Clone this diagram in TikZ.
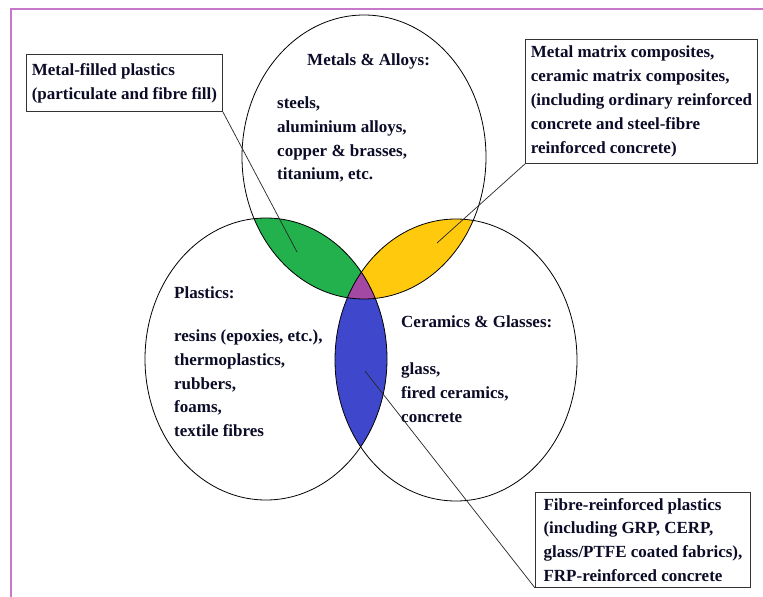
\documentclass[tikz,border=0pt]{standalone}
\usepackage{fontspec}
\setmainfont{Liberation Serif}
\definecolor{framecol}{RGB}{200,120,200}
\definecolor{lgreen}{RGB}{34,177,76}
\definecolor{lyellow}{RGB}{255,201,14}
\definecolor{lblue}{RGB}{63,72,204}
\definecolor{lpurple}{RGB}{163,73,164}
\definecolor{txt}{RGB}{12,12,40}
\begin{document}
\begin{tikzpicture}[x=1pt,y=-1pt,
  every node/.style={font=\bfseries\fontsize{17}{23.8}\selectfont, text=txt},
  lbl/.style={anchor=north west, inner sep=0pt, align=left},
  infobox/.style={draw=black!80, line width=0.9pt, fill=white, anchor=north west, align=left, inner sep=0pt},
  ring/.style={draw=black, line width=0.8pt},
  leader/.style={draw=black!85, line width=0.7pt}]
\useasboundingbox (0,0) rectangle (763,597);
\fill[white] (0,0) rectangle (763,597);
% frame
\draw[framecol, line width=1.6pt] (11,597) -- (11,9) -- (763,9);
% centres
\coordinate (mc) at (364,157);
\coordinate (pc) at (266,359);
\coordinate (cc) at (456,360);
\def\Mpath{(mc) ellipse [x radius=122, y radius=142]}
\def\Ppath{(pc) ellipse [x radius=121, y radius=141]}
\def\Cpath{(cc) ellipse [x radius=121, y radius=141]}
% fills
\begin{scope}\clip \Mpath; \fill[lgreen] \Ppath; \end{scope}
\begin{scope}\clip \Mpath; \fill[lyellow] \Cpath; \end{scope}
\begin{scope}\clip \Ppath; \fill[lblue] \Cpath; \end{scope}
\begin{scope}\clip \Mpath; \clip \Ppath; \fill[lpurple] \Cpath; \end{scope}
% outlines
\draw[ring] \Mpath;
\draw[ring] \Ppath;
\draw[ring] \Cpath;
% circle texts
\node[lbl] (mt) at (307,53.5) {Metals \& Alloys:};
\node[lbl] (ml) at (277,96.5) {steels,\\aluminium alloys,\\copper \& brasses,\\titanium, etc.};
\node[lbl] (pt) at (174,286.5) {Plastics:};
\node[lbl] (pl) at (174,329.5) {resins (epoxies, etc.),\\thermoplastics,\\rubbers,\\foams,\\textile fibres};
\node[lbl] (ct) at (401,315.5) {Ceramics \& Glasses:};
\node[lbl] (cl) at (401,362.5) {glass,\\fired ceramics,\\concrete};
% info boxes
\node[infobox, minimum width=196, minimum height=57] (mf) at (26,54)
  {Metal-filled plastics\\(particulate and fibre fill)};
\node[infobox, minimum width=232, minimum height=124] (mm) at (525,39)
  {Metal matrix composites,\\ceramic matrix composites,\\(including ordinary reinforced\\concrete and steel-fibre\\reinforced concrete)};
\node[infobox, minimum width=215, minimum height=95] (fr) at (535,492)
  {Fibre-reinforced plastics\\(including GRP, CERP,\\glass/PTFE coated fabrics),\\FRP-reinforced concrete};
% leader targets
\coordinate (gpt) at (297,252);
\coordinate (ypt) at (437,243);
\coordinate (bpt) at (365,371);
\draw[leader] (mf.south east) -- (gpt);
\draw[leader] (mm.south west) -- (ypt);
\draw[leader] (fr.south west) -- (bpt);
\end{tikzpicture}
\end{document}
